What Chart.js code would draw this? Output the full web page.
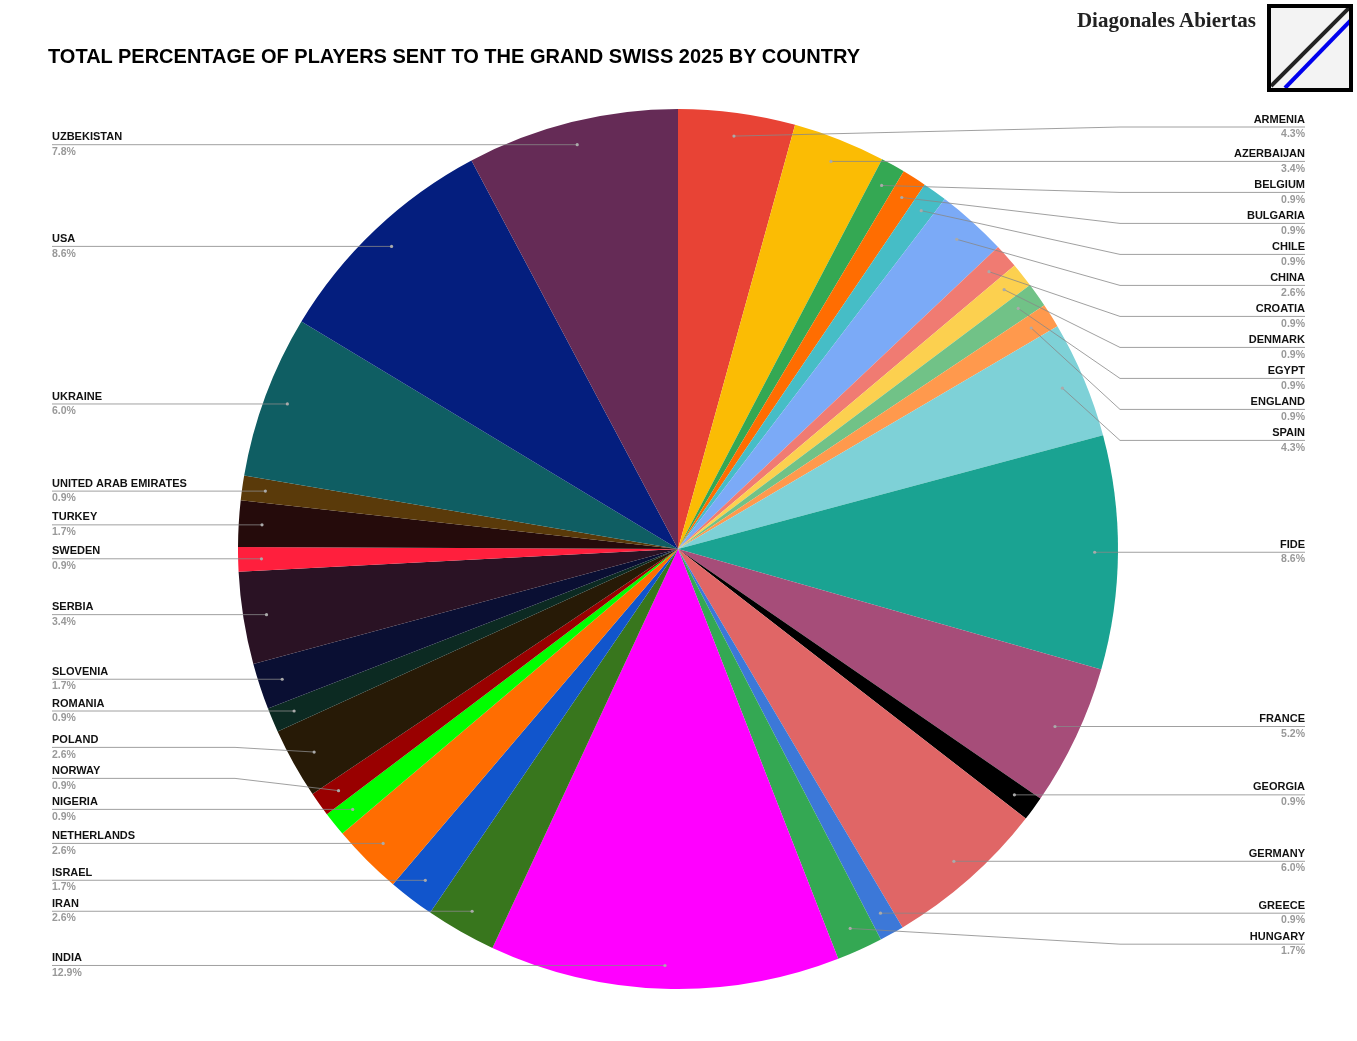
<!DOCTYPE html>
<html><head><meta charset="utf-8">
<script src="https://cdn.jsdelivr.net/npm/chart.js@4"></script>
<style>
html,body{margin:0;padding:0;background:#fff;}
#wrap{position:relative;width:1357px;height:1041px;}
#title{position:absolute;left:48px;top:45px;font:bold 20px "Liberation Sans",Arial,sans-serif;color:#000;}
#brand{position:absolute;left:960px;top:8px;width:296px;text-align:right;white-space:nowrap;font:bold 21px "Liberation Serif",serif;color:#222;}
#logo{position:absolute;left:1267px;top:4px;width:78px;height:80px;border:4px solid #000;background:#f3f3f3;overflow:hidden;}
</style></head>
<body><div id="wrap">
<canvas id="c" width="1357" height="1041"></canvas>
<div id="title">TOTAL PERCENTAGE OF PLAYERS SENT TO THE GRAND SWISS 2025 BY COUNTRY</div>
<div id="brand">Diagonales Abiertas</div>
<div id="logo"><svg width="78" height="80"><line x1="0" y1="78" x2="78" y2="0" stroke="#222" stroke-width="4"/><line x1="14" y1="80" x2="80" y2="12" stroke="#0000ee" stroke-width="4"/></svg></div>
</div>
<script>
const countries = ["ARMENIA","AZERBAIJAN","BELGIUM","BULGARIA","CHILE","CHINA","CROATIA","DENMARK","EGYPT","ENGLAND","SPAIN","FIDE","FRANCE","GEORGIA","GERMANY","GREECE","HUNGARY","INDIA","IRAN","ISRAEL","NETHERLANDS","NIGERIA","NORWAY","POLAND","ROMANIA","SLOVENIA","SERBIA","SWEDEN","TURKEY","UNITED ARAB EMIRATES","UKRAINE","USA","UZBEKISTAN"];
const percents = [4.3,3.4,0.9,0.9,0.9,2.6,0.9,0.9,0.9,0.9,4.3,8.6,5.2,0.9,6.0,0.9,1.7,12.9,2.6,1.7,2.6,0.9,0.9,2.6,0.9,1.7,3.4,0.9,1.7,0.9,6.0,8.6,7.8];
const colors = ["#e84335","#fbbc04","#34a853","#ff6d01","#46bdc6","#7baaf7","#f07b72","#fcd04f","#71c287","#ff994d","#7ed1d7","#1aa392","#a64d79","#000000","#e06666","#3c78d8","#34a853","#ff00ff","#38761d","#1155cc","#ff6d01","#00ff00","#990000","#271a06","#0c2a22","#0a0f33","#2a1224","#ff1f3d","#250b0b","#5a3a0a","#0f5e63","#041e7e","#652b56"];

const callouts = {
  id:'callouts',
  afterDraw(chart){
    const ctx=chart.ctx, arcs=chart.getDatasetMeta(0).data;
    const right=[], left=[];
    arcs.forEach((a,i)=>{
      const mid=(a.startAngle+a.endAngle)/2, r=a.outerRadius*0.947;
      const ax=a.x+Math.cos(mid)*r, ay=a.y+Math.sin(mid)*r;
      (ax>=a.x?right:left).push({i,ax,ay});
    });
    right.sort((p,q)=>p.ay-q.ay);
    let prev=null;
    right.forEach(p=>{p.ly=prev===null?Math.min(p.ay,127):Math.max(p.ay,prev+31);prev=p.ly;});
    left.sort((p,q)=>q.ay-p.ay);
    prev=1010;
    left.forEach(p=>{p.ly=Math.min(p.ay,prev-31);prev=p.ly;});
    ctx.save();
    ctx.strokeStyle='#888';ctx.lineWidth=0.8;
    const draw=(p,side)=>{
      ctx.beginPath();
      if(side==='r'){ctx.moveTo(p.ax,p.ay);ctx.lineTo(1120,p.ly);ctx.lineTo(1305,p.ly);}
      else{ctx.moveTo(p.ax,p.ay);ctx.lineTo(235,p.ly);ctx.lineTo(52,p.ly);}
      ctx.stroke();
      ctx.fillStyle='#aaa';ctx.beginPath();ctx.arc(p.ax,p.ay,1.6,0,Math.PI*2);ctx.fill();
      ctx.textAlign=side==='r'?'right':'left';
      const x=side==='r'?1305:52;
      ctx.fillStyle='#111';ctx.font='bold 11px "Liberation Sans",Arial,sans-serif';
      ctx.textBaseline='bottom';ctx.fillText(countries[p.i],x,p.ly-2);
      ctx.fillStyle='#999';ctx.font='bold 10.5px "Liberation Sans",Arial,sans-serif';
      ctx.textBaseline='top';ctx.fillText(percents[p.i].toFixed(1)+'%',x,p.ly+2);
    };
    right.forEach(p=>draw(p,'r'));left.forEach(p=>draw(p,'l'));
    ctx.restore();
  }
};

new Chart(document.getElementById('c'),{
  type:'pie',
  data:{labels:countries,datasets:[{data:percents,backgroundColor:colors,borderWidth:0}]},
  options:{responsive:false,animation:false,
    layout:{padding:{top:109,bottom:52,left:238,right:239}},
    plugins:{legend:{display:false},tooltip:{enabled:false}}},
  plugins:[callouts]
});
</script></body></html>
